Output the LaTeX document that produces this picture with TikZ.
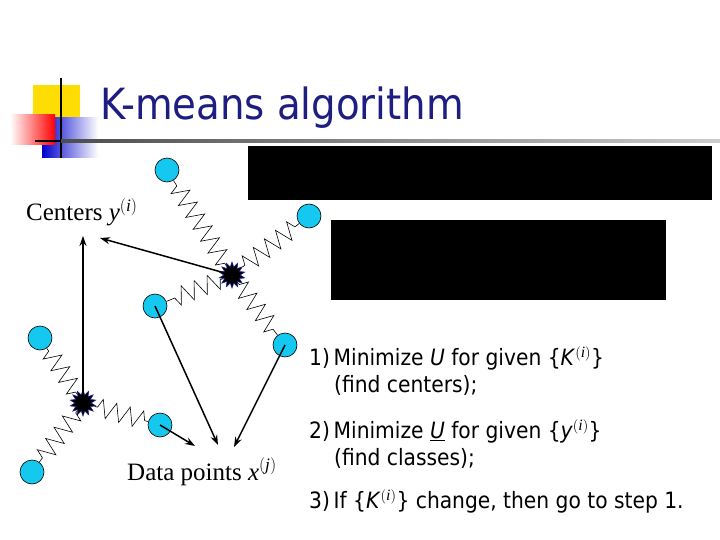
\documentclass[tikz,border=0pt]{standalone}
\usepackage{fontspec}
\setmainfont{Liberation Serif}
\newfontfamily\tah{DejaVu Sans Condensed}
\usetikzlibrary{decorations.pathmorphing,shapes.geometric,shapes.misc,arrows.meta,shadings}
\definecolor{ttl}{RGB}{30,30,130}
\definecolor{cy}{RGB}{20,200,240}
\tikzset{
 ball/.style={circle,draw=black,fill=cy,minimum size=24pt,inner sep=0pt,line width=0.6pt},
 starc/.style={star,star points=14,star point ratio=1.6,draw=ttl,fill=black,minimum size=26pt,inner sep=0pt,line width=0.6pt},
 spring/.style={decorate,decoration={zigzag,segment length=14pt,amplitude=9pt,pre length=3pt,post length=3pt},line width=0.6pt},
 arr/.style={-{Stealth[length=10pt,width=7pt]},line width=1.5pt},
 itm/.style={anchor=base west,font=\tah\fontsize{22.5}{26}\selectfont,inner sep=0pt}
}
\begin{document}
\begin{tikzpicture}[x=1pt,y=-1pt]
\useasboundingbox (0,0) rectangle (720,540);
% logo
\fill[yellow!80!orange] (33,85) rectangle (80,130);
\shade[left color=blue!80!black,right color=white] (42,118) rectangle (98,158);
\shade[left color=white,right color=red] (10,115) rectangle (55,145);
\draw[line width=1.5pt] (61,78) -- (61,158);
\draw[line width=1.5pt] (35,141) -- (61,141);
\shade[left color=black!70,right color=black!20] (61,139.5) rectangle (720,142.5);
\node[anchor=base west,text=ttl,font=\tah\fontsize{43}{48}\selectfont,inner sep=0pt] (title) at (100,120) {K-means algorithm};
% black boxes
\fill[black] (248,146) rectangle (712,200);
\fill[black] (331,220) rectangle (666,300);
% balls
\node[ball] (A) at (167,170) {};
\node[ball] (B) at (309,216) {};
\node[ball] (C) at (155,306) {};
\node[ball] (D) at (285,345) {};
\node[ball] (E) at (40,338) {};
\node[ball] (F) at (160,425) {};
\node[ball] (G) at (32,472) {};
\node[starc] (S1) at (232,275) {};
\node[starc] (S2) at (83,403) {};
% springs
\foreach \b in {A,B,C,D} \draw[spring] (S1) -- (\b);
\foreach \b in {E,F,G} \draw[spring] (S2) -- (\b);
% labels
\node[anchor=base west,font=\fontsize{25}{28}\selectfont,inner sep=0pt] (cent) at (26,221) {Centers \textit{y}$^{(\mathit{i})}$};
\node[anchor=base west,font=\fontsize{25}{28}\selectfont,inner sep=0pt] (data) at (127,480) {Data points \textit{x}$^{(\mathit{j})}$};
\coordinate (ct1) at (100,238);
\coordinate (ct2) at (83,236);
\coordinate (d1) at (195,446);
\coordinate (d2) at (218,445);
\coordinate (d3) at (234,447);
\draw[arr] (S1.center) -- (ct1);
\draw[arr] (S2.center) -- (ct2);
\draw[arr] (F.center) -- (d1);
\draw[arr] (C.center) -- (d2);
\draw[arr] (D.center) -- (d3);
% items
\node[itm] (i1) at (309,365) {1)\,Minimize \textit{U} for given \{\textit{K}$^{(\mathit{i})}$\}};
\node[itm] (i1b) at (334,392) {(find centers);};
\node[itm] (i2) at (309,438) {2)\,Minimize \underline{\textit{U}} for given \{\textit{y}$^{(\mathit{i})}$\}};
\node[itm] (i2b) at (334,465) {(find classes);};
\node[itm] (i3) at (309,508) {3)\,If \{\textit{K}$^{(\mathit{i})}$\} change, then go to step 1.};
\end{tikzpicture}
\end{document}
